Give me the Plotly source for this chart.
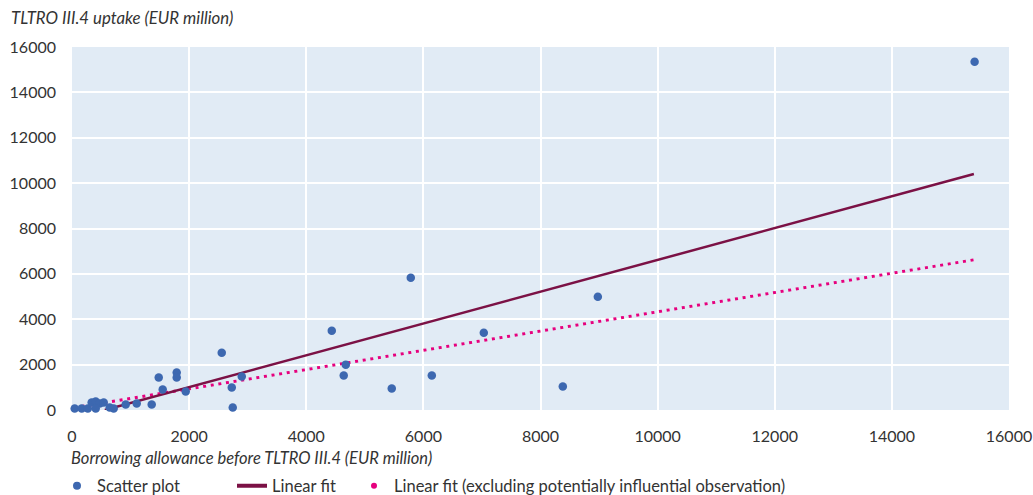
import plotly.graph_objects as go

# Data (EUR million)
allowance = [46, 166, 270, 336, 405, 473, 541, 405, 644, 712, 917, 1105, 1361,
             1549, 1942, 1481, 1788, 1788, 2557, 2899, 2728, 2745, 4436, 4675,
             4640, 5460, 5785, 6144, 7032, 8381, 8979, 15413]
uptake = [66, 66, 66, 330, 374, 286, 330, 66, 110, 66, 242, 286, 242,
          901, 813, 1429, 1648, 1429, 2528, 1473, 989, 110, 3495, 2000,
          1517, 945, 5825, 1517, 3407, 1033, 4990, 15351]

fit_x = [560, 15400]
fit_y = [0, 10400]
fit_excl_x = [34, 15400]
fit_excl_y = [95, 6620]

x_ticks = [0, 2000, 4000, 6000, 8000, 10000, 12000, 14000, 16000]
x_tick_labels = ["0", "2000", "4000", "6000", "8000", "10000", "12000", "14000", "16000"]
y_ticks = [0, 2000, 4000, 6000, 8000, 10000, 12000, 14000, 16000]
y_tick_labels = ["0", "2000", "4000", "6000", "8000", "10000", "12000", "14000", "16000"]

BLUE = "#3D68B0"
MAROON = "#7B1145"
PINK = "#E6007E"
TXT = "#333333"
FONT = "Lato"

W, H = 1033, 495
L, R, T, B = 72, 24, 47, 85
PW, PH = W - L - R, H - T - B


def px_x(px):
    return (px - L) / PW


def px_y(py):
    return (H - B - py) / PH


fig = go.Figure()

fig.add_trace(go.Scatter(
    x=fit_excl_x, y=fit_excl_y, mode="lines",
    line=dict(color=PINK, width=3, dash="3px,4.7px"),
    showlegend=False, hoverinfo="skip"))
fig.add_trace(go.Scatter(
    x=fit_x, y=fit_y, mode="lines",
    line=dict(color=MAROON, width=2.5),
    showlegend=False, hoverinfo="skip"))
fig.add_trace(go.Scatter(
    x=allowance, y=uptake, mode="markers",
    marker=dict(color=BLUE, size=8.5),
    cliponaxis=False, showlegend=False))

# legend entries
fig.add_trace(go.Scatter(x=[None], y=[None], mode="markers",
                         marker=dict(color=BLUE, size=8), name="Scatter plot",
                         legendwidth=130))
fig.add_trace(go.Scatter(x=[None], y=[None], mode="lines",
                         line=dict(color=MAROON, width=4), name="Linear fit",
                         legendwidth=77))
fig.add_trace(go.Scatter(x=[None], y=[None], mode="markers",
                         marker=dict(color=PINK, size=6),
                         name="Linear fit (excluding potentially influential observation)"))

fig.update_layout(
    width=W, height=H,
    margin=dict(l=L, r=R, t=T, b=B),
    paper_bgcolor="white",
    plot_bgcolor="#E1EBF5",
    font=dict(family=FONT, size=16, color=TXT),
    legend=dict(orientation="h", xref="container", yref="container",
                x=57 / W, y=(H - 486) / H, xanchor="left",
                yanchor="middle",
                font=dict(size=16.5, color=TXT), itemwidth=30,
                bgcolor="rgba(0,0,0,0)"),
    xaxis=dict(range=[0, 16000], tickvals=x_ticks, ticktext=x_tick_labels,
               showgrid=True, automargin=False,
               gridcolor="white", gridwidth=2, zeroline=False,
               showline=False, ticks="", ticklabelstandoff=15),
    yaxis=dict(range=[0, 16000], tickvals=y_ticks, ticktext=y_tick_labels,
               showgrid=True, automargin=False,
               gridcolor="white", gridwidth=2, zeroline=False,
               showline=False, ticks="", ticklabelstandoff=15),
    annotations=[
        dict(text="<i>TLTRO III.4 uptake (EUR million)</i>", xref="paper",
             yref="paper", x=px_x(9), y=px_y(18), xanchor="left",
             yanchor="middle", showarrow=False, font=dict(size=16.8, color=TXT)),
        dict(text="<i>Borrowing allowance before TLTRO III.4 (EUR million)</i>",
             xref="paper", yref="paper", x=px_x(69), y=px_y(458),
             xanchor="left", yanchor="middle", showarrow=False,
             font=dict(size=16.5, color=TXT)),
    ],
)

fig.write_html("out.html",
               config={"displayModeBar": False},
               post_script="document.body.style.margin='0';"
                           "document.body.style.overflow='hidden';")
